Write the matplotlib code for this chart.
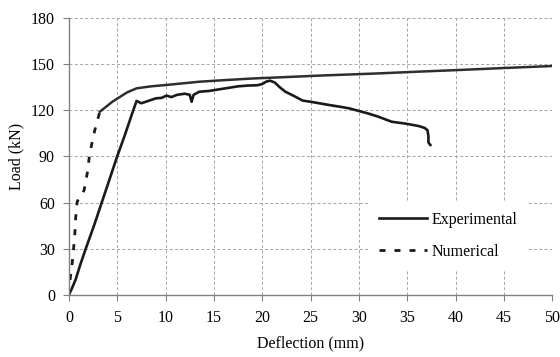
import numpy as np
import matplotlib
matplotlib.use('Agg')
import matplotlib.pyplot as plt

# data
exp_x = [0, 0.3, 0.7, 1.2, 1.8, 2.6, 3.4, 4.2, 5.0, 5.8, 6.5, 7.0, 7.5, 8.2, 9.0, 9.6, 10.1, 10.6,
         11.2, 12.0, 12.5, 12.7, 12.9, 13.5, 14.5, 15.5, 16.5, 17.5, 18.5, 19.5, 20.0, 20.4, 20.8,
         21.3, 21.8, 22.4, 23.2, 24.2, 25.0, 25.9, 27.0, 28.0, 29.0, 30.0, 31.0, 32.0, 33.4, 34.8,
         36.2, 36.8, 37.1, 37.2, 37.2, 37.4]
exp_y = [0, 4, 10, 20, 31, 45, 60, 75, 90, 104, 117, 126, 124.5, 126, 127.7, 128, 129.5, 128.5,
         130, 130.7, 130, 125.5, 130, 132, 132.5, 133.5, 134.5, 135.5, 136, 136.2, 137, 138.5, 139.2,
         138, 135, 132, 129.5, 126.2, 125.5, 124.5, 123.3, 122.3, 121.2, 119.5, 117.8, 115.8, 112.5,
         111.3, 109.7, 108.5, 107, 103, 99, 97.4]

num_lo_x = [0, 0.1, 0.2, 0.35, 0.5, 0.6, 0.7, 0.86, 1.13, 1.4, 1.58, 1.9, 2.16, 2.68, 3.2]
num_lo_y = [0, 8, 14, 21, 31, 38, 50, 60.6, 63.8, 65.5, 68.2, 79, 92, 107, 119]
num_hi_x = [3.2, 4.5, 6.0, 7.0, 8.5, 10.1, 13.5, 16.0, 19.0, 22.0, 26.0, 32.0, 36.0, 40.3, 45.0, 50.0]
num_hi_y = [119, 125.5, 131.5, 134.2, 135.5, 136.4, 138.5, 139.5, 140.6, 141.4, 142.5, 143.9, 145.0, 146.1, 147.4, 148.7]

x_ticks = np.arange(0, 51, 5)
y_ticks = np.arange(0, 181, 30)

plt.rcParams['font.family'] = 'Liberation Serif'
plt.rcParams['lines.scale_dashes'] = False

fig = plt.figure(figsize=(5.6, 3.57), dpi=100)
ax = fig.add_axes([0.123, 0.174, 0.863, 0.776])

ax.plot(exp_x, exp_y, color='#1a1a1a', lw=1.9, label='Experimental')
ax.plot(num_lo_x, num_lo_y, color='#1a1a1a', lw=2.0, dashes=(4.3, 6.5), label='Numerical')
ax.plot(num_hi_x, num_hi_y, color='#2e2e2e', lw=1.8)

ax.set_xlim(0, 50)
ax.set_ylim(0, 180)
ax.set_xticks(x_ticks)
ax.set_yticks(y_ticks)
ax.grid(True, color='#a6a6a6', linestyle=(0, (2.2, 1.6)), linewidth=0.7)
ax.set_axisbelow(True)
for s in ['top', 'right']:
    ax.spines[s].set_visible(False)
for s in ['left', 'bottom']:
    ax.spines[s].set_color('#808080')
    ax.spines[s].set_linewidth(1.0)
ax.tick_params(direction='out', length=4, color='#808080', labelsize=11.5, pad=6)
ax.tick_params(axis='x', pad=7)
ax.set_xlabel('Deflection (mm)', fontsize=11.5, labelpad=7)
ax.set_ylabel('Load (kN)', fontsize=11.5, labelpad=5)

leg = ax.legend(loc='center left', bbox_to_anchor=(0.605, 0.214), frameon=True, fontsize=11.5,
                handlelength=3.0, handletextpad=0.3, labelspacing=1.0, borderpad=0.6)
leg.get_frame().set_facecolor('white')
leg.get_frame().set_edgecolor('none')
leg.get_frame().set_alpha(1)
leg.get_frame().set_boxstyle('square', pad=0)

fig.savefig('out.png', dpi=100)
